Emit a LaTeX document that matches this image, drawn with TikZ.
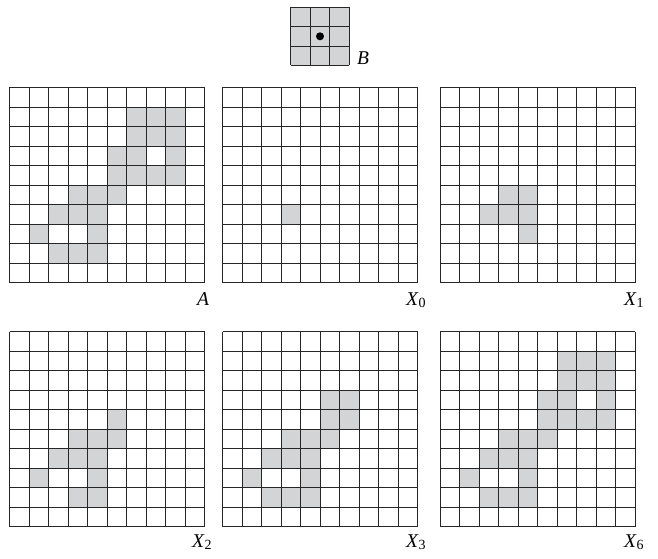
\documentclass[tikz,border=0pt]{standalone}
\usepackage{fontspec}
\setmainfont{Liberation Serif}
\definecolor{cellfill}{RGB}{211,212,214}
\tikzset{
  gridline/.style={draw=black!85,line width=0.9pt},
  gridfill/.style={fill=cellfill},
  lbl/.style={anchor=base west,inner sep=0pt,font=\fontsize{19.5}{22}\selectfont},
}
\newcommand{\cellgrid}[4]{%
  \foreach \c/\r in {#4} {\fill[gridfill] ({#1+\c*19.5},{#2+\r*19.5}) rectangle ++(19.5,19.5);}
  \foreach \i in {0,...,#3} {%
    \draw[gridline] ({#1+\i*19.5},#2) -- ++(0,{#3*19.5});
    \draw[gridline] (#1,{#2+\i*19.5}) -- ++({#3*19.5},0);}%
}
\newcommand{\sub}[1]{\raisebox{-0.3ex}{\fontsize{14}{15}\selectfont #1}}
\begin{document}
\begin{tikzpicture}[x=1pt,y=-1pt]
\useasboundingbox (0,0) rectangle (658,559);
% structuring element B
\cellgrid{290.5}{7}{3}{0/0,1/0,2/0,0/1,1/1,2/1,0/2,1/2,2/2}
\node[circle,fill=black,inner sep=0pt,minimum size=8pt] (dot) at (320,36.3) {};
\node[lbl] (B) at (357,65) {\textit{B}};
% A
\cellgrid{9.5}{87.5}{10}{6/1,7/1,8/1,6/2,7/2,8/2,5/3,6/3,8/3,5/4,6/4,7/4,8/4,3/5,4/5,5/5,2/6,3/6,4/6,1/7,4/7,2/8,3/8,4/8}
\node[lbl] (A) at (197,305) {\textit{A}};
% X0
\cellgrid{222.5}{87.5}{10}{3/6}
\node[lbl] (X0) at (406,305) {\textit{X}\sub{0}};
% X1
\cellgrid{440}{87.5}{10}{3/5,4/5,2/6,3/6,4/6,4/7}
\node[lbl] (X1) at (624,305) {\textit{X}\sub{1}};
% X2
\cellgrid{9.5}{331.5}{10}{5/4,3/5,4/5,5/5,2/6,3/6,4/6,1/7,4/7,3/8,4/8}
\node[lbl] (X2) at (192,547) {\textit{X}\sub{2}};
% X3
\cellgrid{222.5}{331.5}{10}{5/3,6/3,5/4,6/4,3/5,4/5,5/5,2/6,3/6,4/6,1/7,4/7,2/8,3/8,4/8}
\node[lbl] (X3) at (406,547) {\textit{X}\sub{3}};
% X6
\cellgrid{440}{331.5}{10}{6/1,7/1,8/1,6/2,7/2,8/2,5/3,6/3,8/3,5/4,6/4,7/4,8/4,3/5,4/5,5/5,2/6,3/6,4/6,1/7,4/7,2/8,3/8,4/8}
\node[lbl] (X6) at (624,547) {\textit{X}\sub{6}};
\end{tikzpicture}
\end{document}
